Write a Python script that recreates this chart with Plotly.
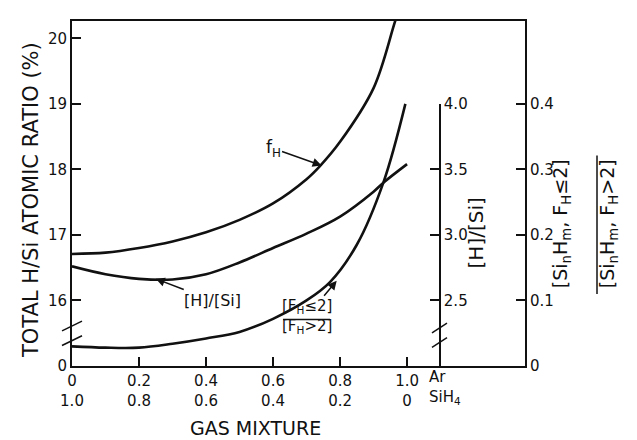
import plotly.graph_objects as go

# ---- data ----
ar_frac = [0.0, 0.1, 0.2, 0.3, 0.4, 0.5, 0.6, 0.7, 0.74, 0.8, 0.9, 0.965, 0.99]
f_h = [16.71, 16.73, 16.80, 16.90, 17.04, 17.23, 17.48, 17.85, 18.05, 18.42, 19.24, 20.27, 20.65]

ar_frac2 = [0.0, 0.1, 0.2, 0.3, 0.4, 0.5, 0.6, 0.7, 0.8, 0.9, 0.93, 1.0]
h_over_si = [2.76, 2.70, 2.665, 2.66, 2.70, 2.79, 2.90, 3.01, 3.14, 3.33, 3.40, 3.54]

ar_frac3 = [0.0, 0.1, 0.2, 0.3, 0.4, 0.5, 0.6, 0.7, 0.77, 0.85, 0.93, 0.995]
fh_ratio = [0.030, 0.028, 0.028, 0.034, 0.042, 0.052, 0.072, 0.100, 0.128, 0.185, 0.281, 0.40]

x_ticks = [0, 0.2, 0.4, 0.6, 0.8, 1.0]
x_ticktext = ["0<br>1.0", "0.2<br>0.8", "0.4<br>0.6", "0.6<br>0.4", "0.8<br>0.2", "1.0<br>0"]
left_ticks = [15, 16, 17, 18, 19, 20]
left_ticktext = ["0", "16", "17", "18", "19", "20"]
mid_ticks = [2.5, 3.0, 3.5, 4.0]
mid_ticktext = ["2.5", "3.0", "3.5", "4.0"]
right_ticks = [0, 0.1, 0.2, 0.3, 0.4]
right_ticktext = ["0", "0.1", "0.2", "0.3", "0.4"]

FONT = "DejaVu Sans"
BLACK = "#111111"
LW = 2.6

fig = go.Figure()
fig.add_trace(go.Scatter(x=ar_frac, y=f_h, mode="lines", line=dict(color=BLACK, width=LW, shape="spline"),
                         xaxis="x", yaxis="y", showlegend=False))
fig.add_trace(go.Scatter(x=ar_frac2, y=h_over_si, mode="lines", line=dict(color=BLACK, width=LW, shape="spline"),
                         xaxis="x", yaxis="y2", showlegend=False))
fig.add_trace(go.Scatter(x=ar_frac3, y=fh_ratio, mode="lines", line=dict(color=BLACK, width=LW, shape="spline"),
                         xaxis="x", yaxis="y3", showlegend=False))

tickfont = dict(family=FONT, size=15, color=BLACK)

# page body adds an 8px offset, so the plot area is placed 8px up/left of the target
fig.update_layout(
    width=637, height=440,
    margin=dict(l=64, r=120, t=4, b=82),
    paper_bgcolor="white", plot_bgcolor="rgba(0,0,0,0)",
    showlegend=False,
    xaxis=dict(range=[0, 1.352], tickvals=x_ticks, ticktext=x_ticktext, ticks="inside", ticklen=9,
               tickwidth=1.5, tickcolor=BLACK, showline=True, linecolor=BLACK, linewidth=2,
               mirror=True, showgrid=False, zeroline=False, tickfont=tickfont, anchor="y"),
    yaxis=dict(range=[15, 20.264], tickvals=left_ticks, ticktext=left_ticktext, ticks="inside", ticklen=9,
               tickwidth=1.5, tickcolor=BLACK, showline=True, linecolor=BLACK, linewidth=2,
               showgrid=False, zeroline=False, tickfont=tickfont, anchor="x"),
    yaxis2=dict(range=[2.0, 4.0], domain=[0, 0.7599], tickvals=mid_ticks, ticktext=mid_ticktext,
                ticks="inside", ticklen=9, tickwidth=1.5, tickcolor=BLACK, showline=True, linecolor=BLACK,
                linewidth=2, showgrid=False, zeroline=False, tickfont=tickfont, side="right",
                anchor="free", position=0.812),
    yaxis3=dict(range=[0, 0.5264], tickvals=right_ticks, ticktext=right_ticktext, ticks="inside", ticklen=9,
                tickwidth=1.5, tickcolor=BLACK, showline=True, linecolor=BLACK, linewidth=2,
                showgrid=False, zeroline=False, tickfont=tickfont, side="right", overlaying="y", anchor="x"),
)

ann = []
# axis titles
ann.append(dict(text="TOTAL H/Si ATOMIC RATIO (%)", xref="paper", yref="paper", x=-0.12, y=0.48,
                textangle=-90, showarrow=False, font=dict(family=FONT, size=21, color=BLACK)))
ann.append(dict(text="GAS MIXTURE", xref="paper", yref="paper", x=0.404, y=-0.18, yanchor="middle",
                showarrow=False, font=dict(family=FONT, size=19, color=BLACK)))
ann.append(dict(text="Ar", xref="x", yref="paper", x=1.06, y=-0.031, xanchor="left", yanchor="middle",
                showarrow=False, font=tickfont))
ann.append(dict(text="SiH<sub>4</sub>", xref="x", yref="paper", x=1.06, y=-0.09, xanchor="left", yanchor="middle",
                showarrow=False, font=tickfont))
# right-side axis labels
ann.append(dict(text="[H]/[Si]", xref="paper", yref="paper", x=(490 - 72) / 453, y=(366 - 230) / 354,
                textangle=-90, showarrow=False, font=dict(family=FONT, size=20, color=BLACK)))
ann.append(dict(text="[Si<sub>n</sub>H<sub>m</sub>, F<sub>H</sub>≤2]", xref="paper", yref="paper",
                x=(576 - 72) / 453, y=(366 - 220) / 354, textangle=-90, showarrow=False,
                font=dict(family=FONT, size=19, color=BLACK)))
ann.append(dict(text="[Si<sub>n</sub>H<sub>m</sub>, F<sub>H</sub>>2]", xref="paper", yref="paper",
                x=(623 - 72) / 453, y=(366 - 220) / 354, textangle=-90, showarrow=False,
                font=dict(family=FONT, size=19, color=BLACK)))
# curve labels
ann.append(dict(text="f<sub>H</sub>", xref="x", yref="y", x=0.745, y=18.06, ax=0.60, ay=18.32,
                axref="x", ayref="y", showarrow=True, arrowhead=2, arrowsize=1.2, arrowwidth=1.5,
                arrowcolor=BLACK, font=dict(family=FONT, size=17, color=BLACK)))
ann.append(dict(text="[H]/[Si]", xref="x", yref="y", x=0.25, y=16.33, ax=0.42, ay=16.0,
                axref="x", ayref="y", showarrow=True, arrowhead=2, arrowsize=1.2, arrowwidth=1.5,
                arrowcolor=BLACK, font=dict(family=FONT, size=16, color=BLACK)))
ann.append(dict(text="[F<sub>H</sub>≤2]<br>[F<sub>H</sub>>2]", xref="x", yref="y3", x=0.79, y=0.13,
                ax=0.70, ay=0.075, axref="x", ayref="y3", showarrow=True, arrowhead=2, arrowsize=1.2,
                arrowwidth=1.5, arrowcolor=BLACK, font=dict(family=FONT, size=15, color=BLACK)))
fig.update_layout(annotations=ann)

shapes = []
# fraction bars
shapes.append(dict(type="line", xref="paper", yref="paper", x0=(597 - 72) / 453, x1=(597 - 72) / 453,
                   y0=(366 - 292) / 354, y1=(366 - 150) / 354, line=dict(color=BLACK, width=1.5)))
shapes.append(dict(type="line", xref="x", yref="y3", x0=0.63, x1=0.77, y0=0.071, y1=0.071,
                   line=dict(color=BLACK, width=1.5)))
# axis breaks
for dy in (0, -15):
    shapes.append(dict(type="line", xref="paper", yref="paper", x0=-10 / 453, x1=10 / 453,
                       y0=(366 - 330 + dy) / 354, y1=(366 - 320 + dy) / 354, line=dict(color=BLACK, width=1.5)))
    shapes.append(dict(type="line", xref="paper", yref="paper", x0=(432 - 72) / 453, x1=(447 - 72) / 453,
                       y0=(366 - 332 + dy) / 354, y1=(366 - 322 + dy) / 354, line=dict(color=BLACK, width=1.5)))
fig.update_layout(shapes=shapes)

fig.write_html("out.html")
